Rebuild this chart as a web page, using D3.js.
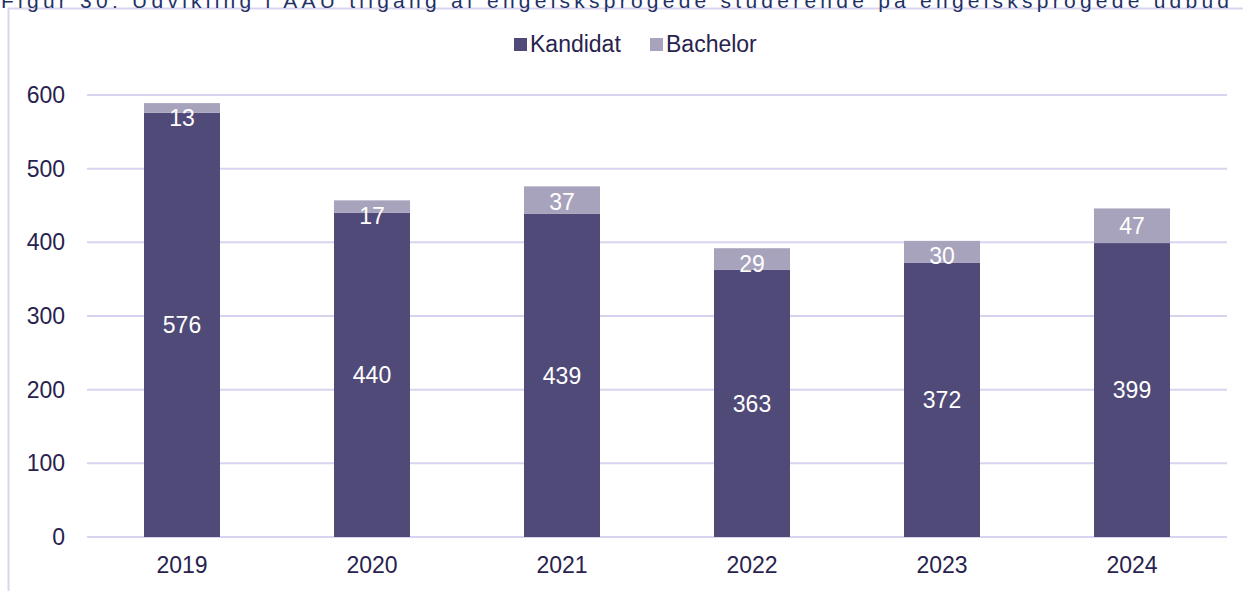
<!DOCTYPE html>
<html>
<head>
<meta charset="utf-8">
<script src="https://cdn.jsdelivr.net/npm/d3@7"></script>
<style>
  body { margin: 0; background: #fff; }
  svg { display: block; font-family: "Liberation Sans", Arial, sans-serif; }
</style>
</head>
<body>
<div id="chart-area"></div>
<script>
var years = ["2019", "2020", "2021", "2022", "2023", "2024"];
var kandidat = [576, 440, 439, 363, 372, 399];
var bachelor = [13, 17, 37, 29, 30, 47];
var seriesNames = ["Kandidat", "Bachelor"];
var yTicks = [0, 100, 200, 300, 400, 500, 600];
var title = "Figur 30: Udvikling i AAU tilgang af engelsksprogede studerende på engelsksprogede udbud";

var total_width = 1243;
var total_height = 591;
var colors = { Kandidat: "#4f4a78", Bachelor: "#a8a3bd" };
var textColor = "#28224e";

var svg = d3.select("#chart-area").append("svg")
            .attr("width", total_width)
            .attr("height", total_height);

// frame of the figure
svg.append("rect")
   .attr("x", 8.5).attr("y", 8.5)
   .attr("width", total_width + 10).attr("height", total_height + 10)
   .attr("fill", "none")
   .attr("stroke", "#d9d5ef")
   .attr("stroke-width", 2);

// title, cut off at the top like the original
svg.append("text")
   .attr("x", 1).attr("y", 8)
   .attr("textLength", 1228)
   .attr("lengthAdjust", "spacing")
   .style("font-size", "21px")
   .style("fill", "#1f3266")
   .text(title);

var margin = {top: 95, right: 16, bottom: 54, left: 87};
var width = 1227 - margin.left;
var height = 537 - margin.top;

var g = svg.append("g")
           .attr("transform", "translate(" + margin.left + "," + margin.top + ")");

var x = d3.scaleBand()
          .domain(years)
          .range([0, width])
          .paddingInner(0.6)
          .paddingOuter(0.3);

var y = d3.scaleLinear()
          .domain([0, 600])
          .range([height, 0]);

// gridlines
g.append("g")
 .selectAll("line")
 .data(yTicks)
 .join("line")
 .attr("x1", 0).attr("x2", width)
 .attr("y1", d => y(d)).attr("y2", d => y(d))
 .attr("stroke", "#d8d3ef")
 .attr("stroke-width", 2);

var yAxis = d3.axisLeft(y).tickValues(yTicks).tickSize(0).tickPadding(22);
g.append("g").call(yAxis)
 .call(a => a.select(".domain").remove())
 .selectAll("text")
 .style("font-size", "23px")
 .style("fill", textColor)
 .attr("font-family", null);

var xAxis = d3.axisBottom(x).tickSize(0).tickPadding(20);
g.append("g").attr("transform", "translate(0," + height + ")").call(xAxis)
 .call(a => a.select(".domain").remove())
 .selectAll("text")
 .style("font-size", "23px")
 .style("fill", textColor)
 .attr("font-family", null);

var rows = years.map((yr, i) => ({ year: yr, Kandidat: kandidat[i], Bachelor: bachelor[i] }));
var stacked = d3.stack().keys(seriesNames)(rows);

var layers = g.selectAll(".layer")
              .data(stacked)
              .join("g")
              .attr("class", "layer")
              .attr("fill", d => colors[d.key]);

layers.selectAll("rect")
      .data(d => d)
      .join("rect")
      .attr("x", d => x(d.data.year))
      .attr("width", x.bandwidth())
      .attr("y", d => y(d[1]))
      .attr("height", d => y(d[0]) - y(d[1]));

// value labels
layers.selectAll("text")
      .data(d => d.map(v => ({ v: v, key: d.key })))
      .join("text")
      .attr("x", d => x(d.v.data.year) + x.bandwidth() / 2)
      .attr("y", function(d) {
        var mid = (y(d.v[0]) + y(d.v[1])) / 2;
        return Math.max(mid, y(d.v[1]) + 15);
      })
      .attr("dy", "0.36em")
      .attr("text-anchor", "middle")
      .style("font-size", "23px")
      .style("fill", "#ffffff")
      .text(d => d.v.data[d.key]);

// legend
var legend = svg.append("g");
var legendX = [514, 650];
seriesNames.forEach(function(name, i) {
  legend.append("rect")
        .attr("x", legendX[i]).attr("y", 38)
        .attr("width", 13).attr("height", 13)
        .attr("fill", colors[name]);
  legend.append("text")
        .attr("x", legendX[i] + 16).attr("y", 52)
        .style("font-size", "23px")
        .style("fill", textColor)
        .text(name);
});
</script>
</body>
</html>
